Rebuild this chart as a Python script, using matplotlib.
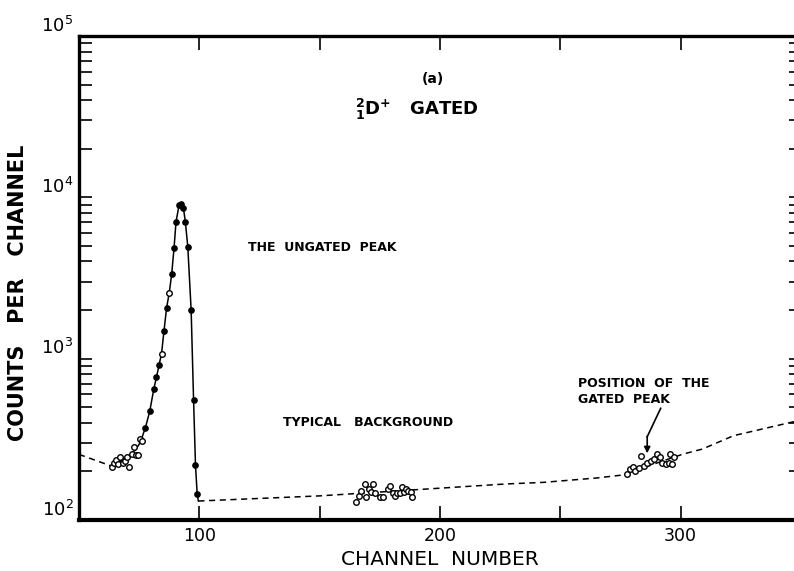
import matplotlib
matplotlib.use("Agg")
import matplotlib.pyplot as plt
from matplotlib.ticker import LogLocator, MultipleLocator, NullFormatter
from matplotlib.transforms import ScaledTranslation

# peak: filled points on the steep part of the ungated peak
peak_ch = [77.6, 79.4, 81.1, 82.2, 83.3, 85.3, 86.4, 88.5, 89.5, 90.3, 91.6,
           92.5, 93.4, 94.2, 95.2, 96.6, 97.6, 98.4, 99.1]
peak_counts = [374, 472, 650, 769, 917, 1480, 2066, 3330, 4870, 7020, 9000,
               9100, 8580, 7020, 4950, 1995, 558, 219, 145]

# open circles (low side of the peak)
open_ch = [63.7, 64.6, 65.5, 66.4, 67.2, 68.3, 69.2, 70.0, 70.9, 72.0, 72.7,
           73.8, 74.4, 75.2, 76.2, 84.3, 87.5]
open_counts = [214, 227, 235, 222, 244, 224, 233, 247, 214, 257, 282,
               254, 254, 318, 307, 1075, 2560]

# smooth curve drawn through the peak
curve_ch = [63, 66, 70, 73.5, 75.5, 77.6, 79.4, 81.1, 82.2, 83.3, 84.3, 85.3,
            86.4, 87.5, 88.5, 89.5, 90.3, 91.6, 92.5, 93.4, 94.2, 95.2, 96.6,
            97.6, 98.4, 99.1, 99.6]
curve_counts = [217, 226, 244, 272, 303, 374, 472, 650, 769, 917, 1075, 1480,
                2066, 2560, 3330, 4870, 7020, 9000, 9100, 8580, 7020, 4950,
                1995, 558, 219, 145, 131]

# typical background
bg_ch = [165.2, 166.2, 167.3, 168.7, 169.4, 170.4, 171.5, 172.2, 173.1, 175.2,
         176.2, 178.5, 179.4, 180.4, 181.3, 182.2, 183.2, 184.3, 185.0, 186.0,
         186.8, 187.8, 188.5]
bg_counts = [129, 141, 151, 167, 138, 155, 148, 168, 146, 139,
             139, 155, 163, 146, 141, 146, 146, 160, 149, 155,
             151, 148, 139]

# gated peak region
gated_ch = [277.7, 278.9, 280.3, 281.2, 282.6, 283.6, 284.7, 286.1, 287.5,
            288.9, 290.3, 291.4, 292.4, 293.8, 295.2, 296.6, 295.6, 297.3]
gated_counts = [192, 207, 212, 202, 210, 250, 217, 227, 233,
                239, 257, 244, 227, 222, 227, 222, 257, 244]

# dashed background estimate
left_bg_ch = [50, 63]
left_bg_counts = [255, 217]
right_bg_ch = [99.6, 150, 193, 227, 243, 265, 276, 290, 301, 309, 322, 349, 352]
right_bg_counts = [131, 141, 155, 167, 171, 182, 190, 225, 256, 275, 333, 413, 425]

fig = plt.figure(figsize=(7.94, 5.71), dpi=100)
ax = fig.add_axes([0.0995, 0.0894, 0.9093, 0.8476])

ax.plot(curve_ch, curve_counts, color="black", lw=1.1)
ax.plot(left_bg_ch, left_bg_counts, color="black", lw=1.1, ls=(0, (4, 3)))
ax.plot(right_bg_ch, right_bg_counts, color="black", lw=1.1, ls=(0, (4, 3)))
ax.plot(peak_ch, peak_counts, "o", ms=3.8, color="black")
for xs, ys in [(open_ch, open_counts), (bg_ch, bg_counts), (gated_ch, gated_counts)]:
    ax.plot(xs, ys, "o", ms=4.0, mfc="white", mec="black", mew=1.0)

ax.set_yscale("log")
ax.set_xlim(50, 350)
ax.set_ylim(100, 100000)

ax.xaxis.set_major_locator(MultipleLocator(50))
ax.xaxis.set_major_formatter(plt.FuncFormatter(lambda v, p: f"{int(v)}" if v % 100 == 0 else ""))
ax.yaxis.set_major_locator(LogLocator(base=10))
ax.yaxis.set_minor_locator(LogLocator(base=10, subs=range(2, 10)))
ax.yaxis.set_minor_formatter(NullFormatter())

ax.tick_params(axis="x", which="major", direction="in", length=10, width=1.2,
               top=True, labelsize=12.5, pad=5)
ax.tick_params(axis="y", which="both", direction="in", length=9, width=1.2,
               right=True, labelsize=13, pad=4)
for side in ["left", "top"]:
    ax.spines[side].set_linewidth(2.4)
ax.spines["bottom"].set_linewidth(3)
ax.spines["right"].set_visible(False)

# y tick labels sit a little above their ticks in the original
lift = ScaledTranslation(0, 9 / 72, fig.dpi_scale_trans)
for lab in ax.get_yticklabels():
    lab.set_transform(lab.get_transform() + lift)

ax.set_xlabel("CHANNEL  NUMBER", fontsize=14.5, labelpad=4)
ax.set_ylabel("COUNTS   PER   CHANNEL", fontsize=15, fontweight="bold")
ax.yaxis.set_label_coords(-0.071, 0.47)

ax.text(197, 54200, "(a)", fontsize=10, fontweight="bold", ha="center", va="center")
ax.text(164.7, 34800, r"${}^{\mathbf{2}}_{\mathbf{1}}\mathbf{D}^{\mathbf{+}}$   GATED",
        fontsize=13, fontweight="bold", ha="left", va="center")
ax.text(120.2, 4850, "THE  UNGATED  PEAK", fontsize=9, fontweight="bold",
        ha="left", va="center")
ax.text(134.8, 399, "TYPICAL   BACKGROUND", fontsize=9, fontweight="bold",
        ha="left", va="center")
ax.text(257.3, 706, "POSITION  OF  THE", fontsize=9, fontweight="bold",
        ha="left", va="center")
ax.text(257.3, 562, "GATED  PEAK", fontsize=9, fontweight="bold",
        ha="left", va="center")

ax.plot([291.7, 286.1], [492, 328], color="black", lw=1.2)
ax.annotate("", xy=(286.1, 259), xytext=(286.1, 330),
            arrowprops=dict(arrowstyle="-|>", color="black", lw=1.2,
                            mutation_scale=9, shrinkA=0, shrinkB=0))

fig.savefig("out.png", dpi=100)
